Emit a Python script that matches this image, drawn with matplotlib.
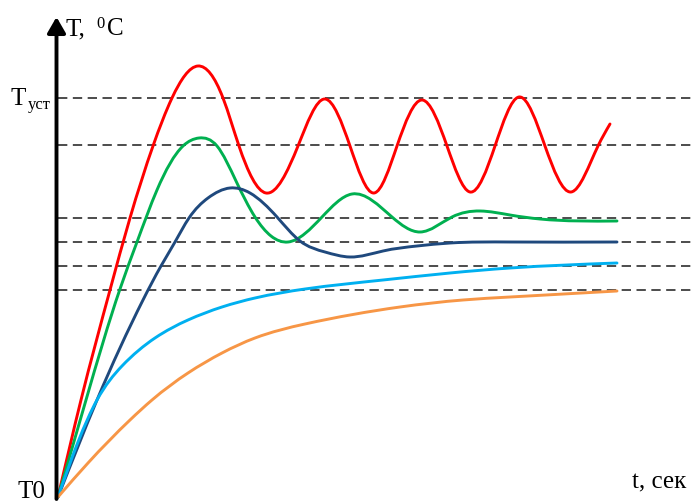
import matplotlib
matplotlib.use("Agg")
import matplotlib.pyplot as plt
import numpy as np
from matplotlib.path import Path
from matplotlib.patches import PathPatch

plt.rcParams['font.family'] = ['Liberation Serif', 'DejaVu Serif']

# time and temperature (arbitrary units)
red_t = [0, 23, 52, 72, 95, 114, 140, 165, 181, 208, 240, 267, 292, 316,
         339, 364, 389, 412, 437, 461, 487, 513, 540, 552]
red_T = [0, 97, 207, 279, 351, 399, 431, 399, 351, 304, 351, 398, 351, 304,
         351, 397, 351, 305, 351, 400, 351, 305, 351, 373]

green_t = [0, 28, 62, 79, 99, 125, 141, 159, 178, 197, 213, 230, 264, 294, 334,
           362, 394, 422, 452, 482, 559]
green_T = [0, 97, 208, 255, 307, 351, 359, 351, 316, 280, 261, 255, 280, 303, 280,
           265, 280, 286, 282, 278, 276]

navy_t = [0, 39, 85, 103, 117, 131, 150, 172, 192, 219, 242, 267, 292, 325, 359, 392, 452, 559]
navy_T = [0, 97, 197, 231, 255, 279, 299, 309, 304, 280, 256, 245, 240, 246, 251, 254, 255, 255]

cyan_t = [0, 20, 39, 64, 97, 130, 164, 197, 247, 325, 392, 452, 559]
cyan_T = [0, 55, 97, 131, 159, 177, 190, 199, 208, 217, 224, 229, 234]

orange_t = [0, 30, 72, 94, 130, 164, 197, 247, 342, 405, 452, 559]
orange_T = [0, 34, 77, 97, 124, 144, 159, 173, 190, 197, 200, 206]

levels = [399, 352, 279, 255, 231, 207]
t_end = 637

series = [
    (red_t, red_T, '#FF0000'),
    (green_t, green_T, '#00B050'),
    (navy_t, navy_T, '#1F497D'),
    (cyan_t, cyan_T, '#00B0F0'),
    (orange_t, orange_T, '#F79646'),
]


def spline_path(xs, ys):
    # natural cubic spline through the points, written as Bezier segments
    x = np.asarray(xs, float)
    y = np.asarray(ys, float)
    n = len(x)
    h = np.diff(x)
    d = np.diff(y) / h
    A = np.zeros((n, n))
    b = np.zeros(n)
    A[0, 0] = A[-1, -1] = 1
    for i in range(1, n - 1):
        A[i, i - 1] = h[i - 1]
        A[i, i] = 2 * (h[i - 1] + h[i])
        A[i, i + 1] = h[i]
        b[i] = 6 * (d[i] - d[i - 1])
    M = np.linalg.solve(A, b)
    verts = [(x[0], y[0])]
    codes = [Path.MOVETO]
    for i in range(n - 1):
        s0 = d[i] - h[i] * (2 * M[i] + M[i + 1]) / 6
        s1 = d[i] + h[i] * (M[i] + 2 * M[i + 1]) / 6
        verts += [(x[i] + h[i] / 3, y[i] + s0 * h[i] / 3),
                  (x[i + 1] - h[i] / 3, y[i + 1] - s1 * h[i] / 3),
                  (x[i + 1], y[i + 1])]
        codes += [Path.CURVE4] * 3
    return Path(verts, codes)


fig = plt.figure(figsize=(6.95, 5.03), dpi=100)
ax = fig.add_axes([0, 0, 1, 1])
ax.set_xlim(-58, 637)
ax.set_ylim(-6, 497)
ax.axis('off')

ax.hlines(levels, 0, t_end, colors='#2e2e2e', linewidth=1.2,
          linestyles=(0, (5.6, 3.3)), zorder=1)

for xs, ys, col in series:
    ax.add_patch(PathPatch(spline_path(xs, ys), fill=False, edgecolor=col,
                           linewidth=2.1, capstyle='round', joinstyle='round', zorder=3))

# axes with arrows
ax.annotate('', xy=(-1.5, 480), xytext=(-1.5, -2),
            arrowprops=dict(arrowstyle='-|>,head_length=0.95,head_width=0.55',
                            color='black', lw=2.8, shrinkA=0, shrinkB=0, mutation_scale=10),
            zorder=4)
ax.annotate('', xy=(645, -2), xytext=(-3.5, -2),
            arrowprops=dict(arrowstyle='-|>,head_length=0.95,head_width=0.5',
                            color='black', lw=2.8, shrinkA=0, shrinkB=0, mutation_scale=10),
            zorder=4)

ax.text(8, 462, 'T,', fontsize=18, ha='left', va='baseline')
ax.text(38, 469, '0', fontsize=12, ha='left', va='baseline')
ax.text(49, 462, 'C', fontsize=18, ha='left', va='baseline')

ax.text(-48, 392, 'T', fontsize=18, ha='left', va='baseline')
ax.text(-30, 388, 'уст', fontsize=12, ha='left', va='baseline')

ax.text(-41, -1, 'T0', fontsize=18, ha='left', va='baseline')
ax.text(574, 9, 't, сек', fontsize=18, ha='left', va='baseline')

fig.savefig('out.png', dpi=100)
